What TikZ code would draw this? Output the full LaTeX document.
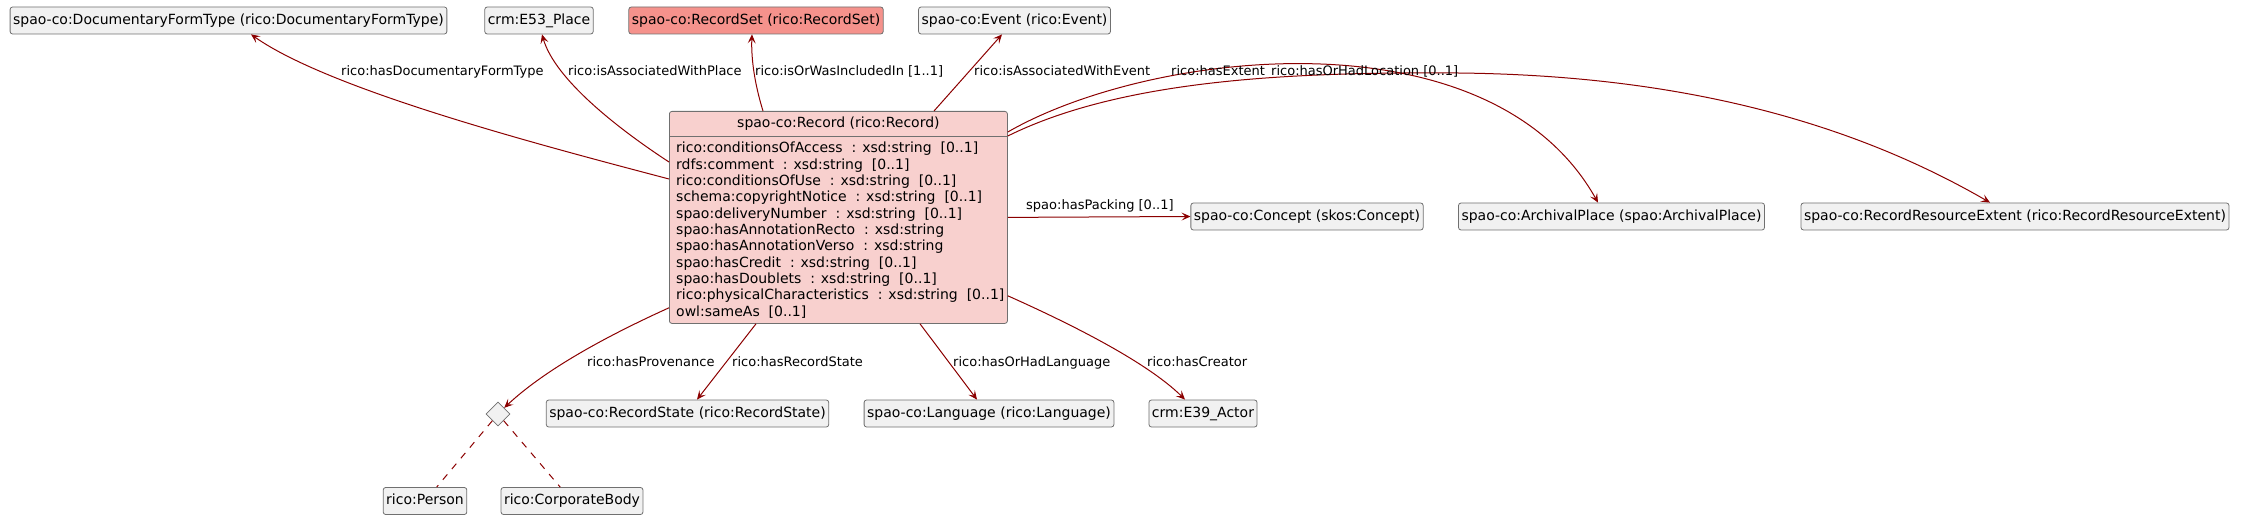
\documentclass[tikz,border=0pt]{standalone}
\usepackage{fontspec}
\setmainfont{DejaVu Sans}
\usetikzlibrary{arrows.meta,calc,shapes.geometric}
\definecolor{boxfill}{HTML}{F1F1F1}
\definecolor{boxline}{HTML}{707070}
\definecolor{recfill}{HTML}{F8D0CE}
\definecolor{setfill}{HTML}{F5928C}
\definecolor{relcol}{HTML}{8B0000}
\newcommand\twosp{\ \ }
\begin{document}
\begin{tikzpicture}[x=1bp,y=-1bp,
  classbox/.style={draw=boxline, fill=boxfill, line width=0.8bp, rounded corners=2.5bp,
    inner xsep=3bp, inner ysep=0bp, minimum height=27bp,
    font=\fontsize{14bp}{16.3bp}\selectfont, text height=10.6bp, text depth=3.3bp},
  recbox/.style={draw=boxline, fill=recfill, line width=0.8bp, rounded corners=2.5bp, inner sep=0bp},
  titletext/.style={inner sep=0bp, font=\fontsize{14bp}{16.3bp}\selectfont, text height=10.6bp, text depth=3.3bp},
  attrtext/.style={inner sep=0bp, font=\fontsize{14bp}{16.3bp}\selectfont},
  lbl/.style={inner sep=0bp, anchor=west, font=\fontsize{13bp}{15bp}\selectfont, text height=9.9bp, text depth=3.1bp},
  rel/.style={draw=relcol, line width=1bp, -{Stealth[length=9bp,width=8bp,inset=4bp]}},
  dashrel/.style={draw=relcol, line width=1bp, dash pattern=on 7bp off 7bp},
  choice/.style={diamond, draw=boxline, fill=boxfill, line width=0.8bp, inner sep=0bp, minimum width=24bp, minimum height=24bp}
]
\useasboundingbox (0,0) rectangle (2244,527);

% top row
\node[classbox] (dft) at (228.5,20.5) {spao-co:DocumentaryFormType (rico:DocumentaryFormType)};
\node[classbox] (e53) at (539,20.5) {crm:E53\_Place};
\node[classbox, fill=setfill] (rset) at (756,20.5) {spao-co:RecordSet (rico:RecordSet)};
\node[classbox] (event) at (1014.5,20.5) {spao-co:Event (rico:Event)};

% record
\node[recbox, minimum width=338bp, minimum height=212bp, anchor=north west] (rec) at (669,111) {};
\node[titletext] (rectitle) at ($(rec.north)+(0,12.5)$) {spao-co:Record (rico:Record)};
\draw[draw=boxline, line width=0.8bp] ($(rec.north west)+(0,25)$) -- ($(rec.north east)+(0,25)$);
\foreach \t [count=\i from 0] in {
  {rico:conditionsOfAccess\twosp: xsd:string\twosp[0..1]},
  {rdfs:comment\twosp: xsd:string\twosp[0..1]},
  {rico:conditionsOfUse\twosp: xsd:string\twosp[0..1]},
  {schema:copyrightNotice\twosp: xsd:string\twosp[0..1]},
  {spao:deliveryNumber\twosp: xsd:string\twosp[0..1]},
  {spao:hasAnnotationRecto\twosp: xsd:string},
  {spao:hasAnnotationVerso\twosp: xsd:string},
  {spao:hasCredit\twosp: xsd:string\twosp[0..1]},
  {spao:hasDoublets\twosp: xsd:string\twosp[0..1]},
  {rico:physicalCharacteristics\twosp: xsd:string\twosp[0..1]},
  {owl:sameAs\twosp[0..1]}}
  \node[attrtext, anchor=base west] (attr\i) at ($(rec.north west)+(7,42+16.3*\i)$) {\t};

% right row
\node[classbox] (concept) at (1307,216.5) {spao-co:Concept (skos:Concept)};
\node[classbox] (aplace) at (1611.5,216.5) {spao-co:ArchivalPlace (spao:ArchivalPlace)};
\node[classbox] (rre) at (2015,216.5) {spao-co:RecordResourceExtent (rico:RecordResourceExtent)};

% bottom row
\node[choice] (dia) at (498,414) {};
\node[classbox] (rstate) at (687.5,413.5) {spao-co:RecordState (rico:RecordState)};
\node[classbox] (lang) at (989,413.5) {spao-co:Language (rico:Language)};
\node[classbox] (e39) at (1203,413.5) {crm:E39\_Actor};
\node[classbox] (person) at (425,501) {rico:Person};
\node[classbox] (cbody) at (572,501) {rico:CorporateBody};

% connectors
\draw[rel] ($(rec.north west)+(0,68)$) .. controls (540,145) and (330,90) .. ($(dft.south)+(22.5,0)$);
\draw[rel] ($(rec.north west)+(0,51)$) .. controls (620,130) and (555,80) .. ($(e53.south)+(3,0)$);
\draw[rel] ($(rec.north west)+(94,0)$) .. controls (755,85) and (751,60) .. ($(rset.south)+(-4,0)$);
\draw[rel] ($(rec.north west)+(265,0)$) -- ($(event.south)+(-12.5,0)$);
\draw[rel] ($(rec.north east)+(0,21)$) .. controls (1150,50) and (1490,10) .. ($(aplace.north)+(-13.5,0)$);
\coordinate (bmid) at (1458,73);
\draw[rel] ($(rec.north east)+(0,25)$) .. controls (1125,78) and (1300,72) .. (bmid) .. controls (1650,75) and (1830,110) .. ($(rre.north)+(-25,0)$);
\draw[rel] (rec.east) -- (concept.west);
\draw[rel] ($(rec.south west)+(0,-16)$) .. controls (620,330) and (550,365) .. (dia.north east);
\draw[rel] ($(rec.south west)+(87,0)$) -- ($(rstate.north)+(9.5,0)$);
\draw[rel] ($(rec.south west)+(251,0)$) -- ($(lang.north)+(-12,0)$);
\draw[rel] ($(rec.south east)+(0,-28)$) .. controls (1062,320) and (1145,360) .. ($(e39.north)+(-18,0)$);
\draw[dashrel] (dia) -- (person);
\draw[dashrel] (dia) -- (cbody);

% labels
\node[lbl] (l1) at (341,72) {rico:hasDocumentaryFormType};
\node[lbl] (l2) at (568,72) {rico:isAssociatedWithPlace};
\node[lbl] (l3) at (755,72) {rico:isOrWasIncludedIn [1..1]};
\node[lbl] (l4) at (974,72) {rico:isAssociatedWithEvent};
\node[lbl] (l5) at (1171,72) {rico:hasExtent};
\node[lbl] (l6) at (1271,72) {rico:hasOrHadLocation [0..1]};
\node[lbl] (l7) at (1026,206) {spao:hasPacking [0..1]};
\node[lbl] (l8) at (587,363) {rico:hasProvenance};
\node[lbl] (l9) at (732,363) {rico:hasRecordState};
\node[lbl] (l10) at (953,363) {rico:hasOrHadLanguage};
\node[lbl] (l11) at (1147,363) {rico:hasCreator};
\end{tikzpicture}
\end{document}
